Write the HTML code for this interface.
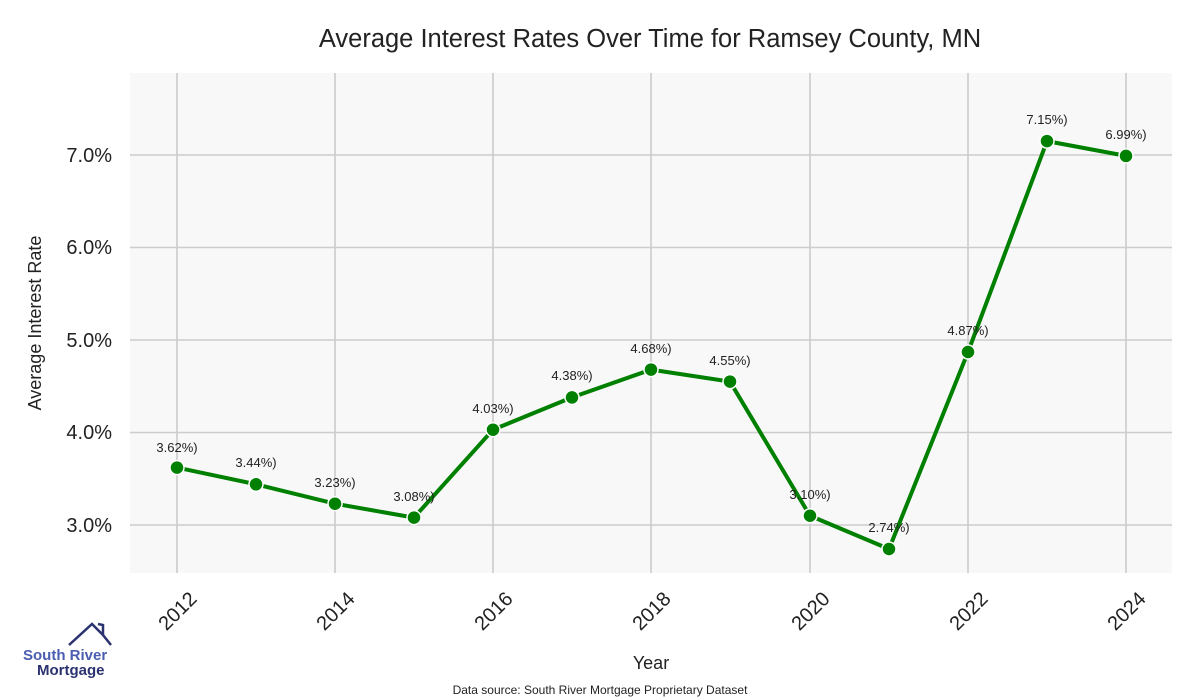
<!DOCTYPE html>
<html><head><meta charset="utf-8"><style>body{margin:0;background:#fff}svg{display:block}</style></head><body>
<svg width="1200" height="700" xmlns="http://www.w3.org/2000/svg" font-family="Liberation Sans, sans-serif">
<rect width="1200" height="700" fill="#fff"/>
<text x="650" y="47" text-anchor="middle" font-size="25.5" fill="#222">Average Interest Rates Over Time for Ramsey County, MN</text>
<rect x="130" y="73" width="1042" height="500" fill="#f8f8f8"/>
<g stroke="#cccccc" stroke-width="1.6">
<line x1="177" y1="73" x2="177" y2="573"/><line x1="335" y1="73" x2="335" y2="573"/><line x1="493" y1="73" x2="493" y2="573"/><line x1="651" y1="73" x2="651" y2="573"/><line x1="810" y1="73" x2="810" y2="573"/><line x1="968" y1="73" x2="968" y2="573"/><line x1="1126" y1="73" x2="1126" y2="573"/>
<line x1="130" y1="155" x2="1172" y2="155"/><line x1="130" y1="247.5" x2="1172" y2="247.5"/><line x1="130" y1="340" x2="1172" y2="340"/><line x1="130" y1="432.5" x2="1172" y2="432.5"/><line x1="130" y1="525" x2="1172" y2="525"/>
</g>
<g font-size="20" fill="#222" text-anchor="end">
<text x="112" y="162">7.0%</text><text x="112" y="254">6.0%</text><text x="112" y="347">5.0%</text><text x="112" y="439">4.0%</text><text x="112" y="532">3.0%</text>
</g>
<g font-size="20" fill="#222" text-anchor="end">
<text transform="translate(198,600) rotate(-45)">2012</text>
<text transform="translate(356,600) rotate(-45)">2014</text>
<text transform="translate(514,600) rotate(-45)">2016</text>
<text transform="translate(672,600) rotate(-45)">2018</text>
<text transform="translate(831,600) rotate(-45)">2020</text>
<text transform="translate(989,600) rotate(-45)">2022</text>
<text transform="translate(1147,600) rotate(-45)">2024</text>
</g>
<text x="651" y="669" text-anchor="middle" font-size="18" fill="#222">Year</text>
<text transform="translate(41,323) rotate(-90)" text-anchor="middle" font-size="18" fill="#222">Average Interest Rate</text>
<text x="600" y="694" text-anchor="middle" font-size="12" fill="#222">Data source: South River Mortgage Proprietary Dataset</text>
<polyline fill="none" stroke="#008000" stroke-width="4" stroke-linejoin="round" points="177,467.6 256,484.3 335,503.7 414,517.6 493,429.7 572,397.4 651,369.6 730,381.6 810,515.75 889,549 968,352 1047,141.1 1126,155.9"/>
<g fill="#008000" stroke="#fff" stroke-width="1.5">
<circle cx="177" cy="467.6" r="7"/><circle cx="256" cy="484.3" r="7"/><circle cx="335" cy="503.7" r="7"/><circle cx="414" cy="517.6" r="7"/><circle cx="493" cy="429.7" r="7"/><circle cx="572" cy="397.4" r="7"/><circle cx="651" cy="369.6" r="7"/><circle cx="730" cy="381.6" r="7"/><circle cx="810" cy="515.75" r="7"/><circle cx="889" cy="549" r="7"/><circle cx="968" cy="352" r="7"/><circle cx="1047" cy="141.1" r="7"/><circle cx="1126" cy="155.9" r="7"/>
</g>
<g font-size="13" fill="#222" text-anchor="middle">
<text x="177" y="452">3.62%)</text><text x="256" y="467">3.44%)</text><text x="335" y="487">3.23%)</text><text x="414" y="501">3.08%)</text><text x="493" y="413">4.03%)</text><text x="572" y="380">4.38%)</text><text x="651" y="353">4.68%)</text><text x="730" y="365">4.55%)</text><text x="810" y="499">3.10%)</text><text x="889" y="532">2.74%)</text><text x="968" y="335">4.87%)</text><text x="1047" y="124">7.15%)</text><text x="1126" y="139">6.99%)</text>
</g>
<g>
<polyline points="69,645 92,624 103,635 103,625 98,624 103,625 103,635 111,645" fill="none" stroke="#2b3270" stroke-width="2.5"/>
<text x="23" y="660" font-size="15" font-weight="bold" fill="#4a5db0">South River</text>
<text x="37" y="675" font-size="15" font-weight="bold" fill="#2b3270">Mortgage</text>
</g>
</svg>
</body></html>
